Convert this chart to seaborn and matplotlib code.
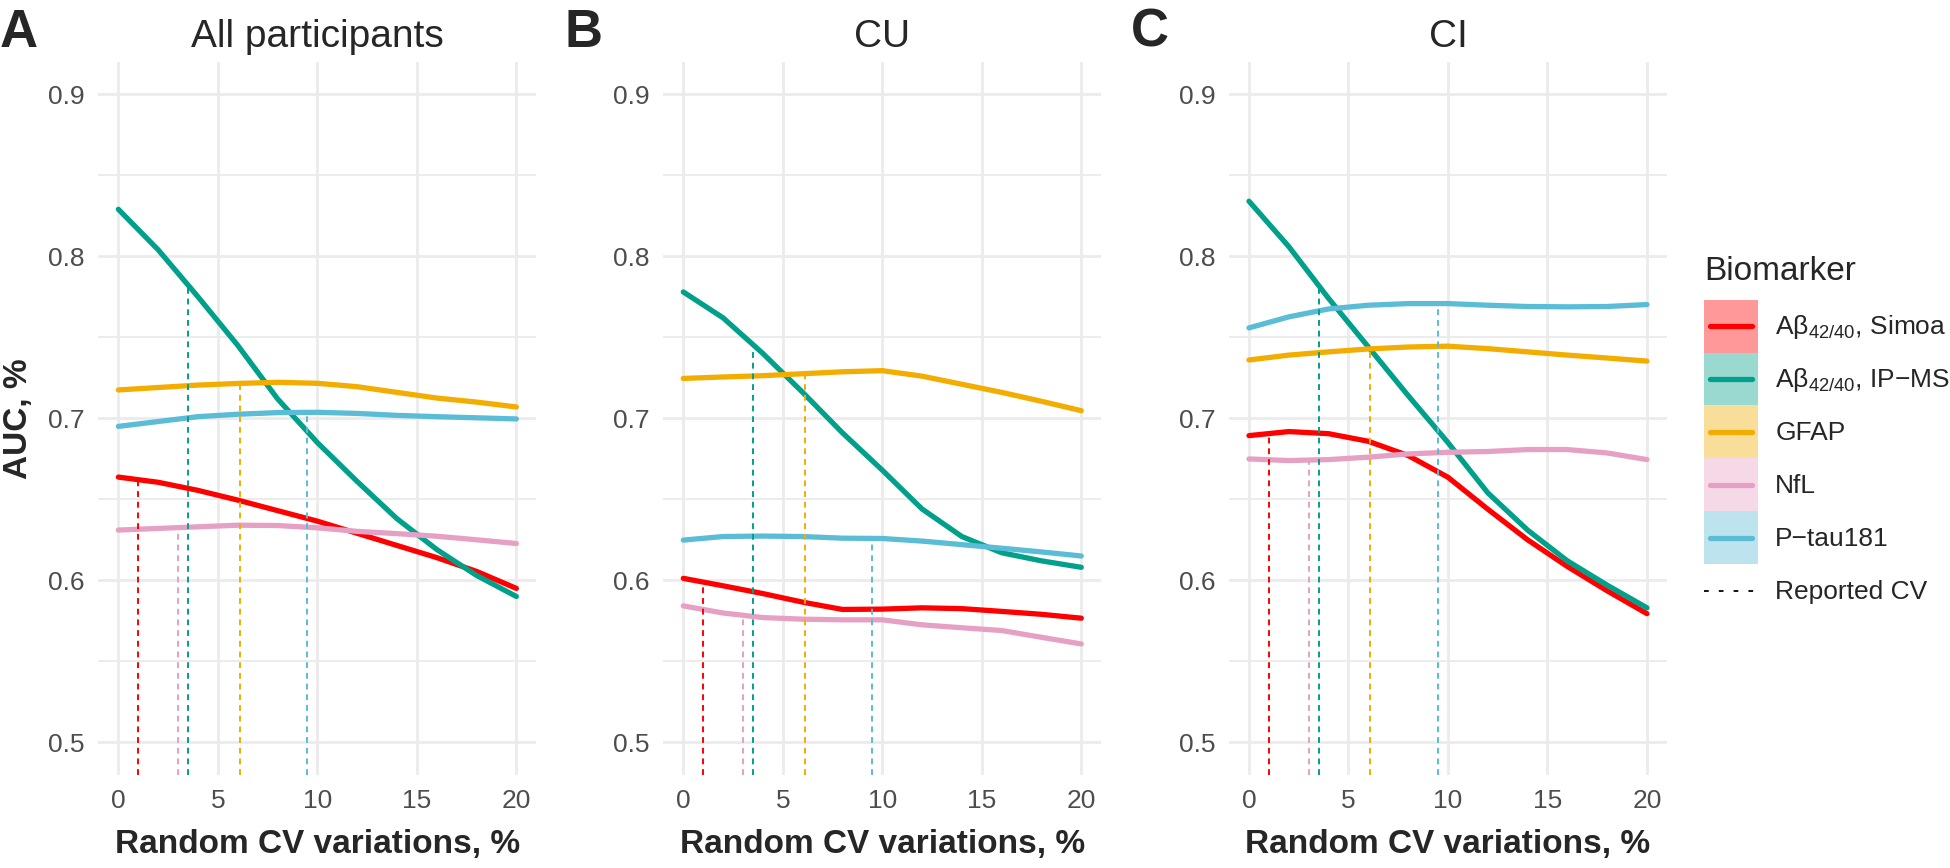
import numpy as np
import pandas as pd
import seaborn as sns
import matplotlib.pyplot as plt
from matplotlib.lines import Line2D
from matplotlib.patches import Rectangle
from matplotlib.ticker import MultipleLocator

# random CV variation (%) at which AUC was read
cv = [0, 2, 4, 6, 8, 10, 12, 14, 16, 18, 20]

# All participants
all_simoa = [0.6637, 0.6605, 0.6555, 0.6495, 0.6430, 0.6365, 0.6290, 0.6215, 0.6140, 0.6055, 0.5950]
all_ipms = [0.829, 0.804, 0.775, 0.745, 0.712, 0.685, 0.661, 0.638, 0.619, 0.603, 0.590]
all_gfap = [0.7175, 0.7190, 0.7205, 0.7215, 0.7222, 0.7216, 0.7195, 0.7160, 0.7125, 0.7100, 0.7070]
all_nfl = [0.6310, 0.6320, 0.6330, 0.6340, 0.6338, 0.6324, 0.6302, 0.6288, 0.6272, 0.6250, 0.6227]
all_ptau = [0.6950, 0.6980, 0.7010, 0.7025, 0.7035, 0.7037, 0.7030, 0.7018, 0.7010, 0.7003, 0.6996]

# CU
cu_simoa = [0.6012, 0.5966, 0.5918, 0.5865, 0.5820, 0.5822, 0.5830, 0.5825, 0.5808, 0.5790, 0.5766]
cu_ipms = [0.778, 0.762, 0.740, 0.716, 0.691, 0.668, 0.644, 0.627, 0.617, 0.612, 0.608]
cu_gfap = [0.7246, 0.7255, 0.7263, 0.7275, 0.7287, 0.7294, 0.7260, 0.7210, 0.7160, 0.7105, 0.7047]
cu_nfl = [0.5842, 0.5798, 0.5770, 0.5760, 0.5756, 0.5756, 0.5725, 0.5707, 0.5690, 0.5648, 0.5607]
cu_ptau = [0.6248, 0.6270, 0.6273, 0.6270, 0.6260, 0.6258, 0.6242, 0.6220, 0.6198, 0.6175, 0.6150]

# CI
ci_simoa = [0.6893, 0.6918, 0.6905, 0.6858, 0.6770, 0.6636, 0.6439, 0.6250, 0.6085, 0.5935, 0.5794]
ci_ipms = [0.834, 0.806, 0.774, 0.744, 0.714, 0.685, 0.654, 0.631, 0.612, 0.597, 0.583]
ci_gfap = [0.7360, 0.7390, 0.7410, 0.7428, 0.7440, 0.7445, 0.7430, 0.7410, 0.7390, 0.7372, 0.7353]
ci_nfl = [0.6749, 0.6739, 0.6745, 0.6760, 0.6780, 0.6790, 0.6795, 0.6807, 0.6807, 0.6786, 0.6745]
ci_ptau = [0.7558, 0.7626, 0.7675, 0.7698, 0.7708, 0.7708, 0.7698, 0.7690, 0.7688, 0.7690, 0.7702]

markers = ["Simoa", "IP-MS", "GFAP", "NfL", "P-tau181"]
marker_labels = ["A\u03b2$_{42/40}$, Simoa", "A\u03b2$_{42/40}$, IP\u2212MS", "GFAP", "NfL", "P\u2212tau181"]
reported_cv = [1.0, 3.5, 6.1, 3.0, 9.5]
colors = ["#FF0000", "#00A08A", "#F2AD00", "#E6A0C4", "#5BBCD6"]

panels = ["All participants", "CU", "CI"]
letters = ["A", "B", "C"]
panel_data = [
    [all_simoa, all_ipms, all_gfap, all_nfl, all_ptau],
    [cu_simoa, cu_ipms, cu_gfap, cu_nfl, cu_ptau],
    [ci_simoa, ci_ipms, ci_gfap, ci_nfl, ci_ptau],
]

rows = []
for p, vals in zip(panels, panel_data):
    for m, v in zip(markers, vals):
        for x, y in zip(cv, v):
            rows.append({"panel": p, "marker": m, "cv": x, "auc": y})
df = pd.DataFrame(rows)
palette = dict(zip(markers, colors))

sns.set_style("white")
plt.rcParams['font.family'] = ['Liberation Sans', 'DejaVu Sans']
plt.rcParams['mathtext.default'] = 'regular'

key_dash = (0, (2.6, 5.6))


class KeyBox:
    # ggplot-like legend key: tinted box with the line across it
    def legend_artist(self, legend, orig_handle, fontsize, handlebox):
        x0, y0 = -handlebox.xdescent, -handlebox.ydescent
        w, h = handlebox.width, handlebox.height
        c = orig_handle.get_color()
        if orig_handle.get_linestyle() == '-':
            handlebox.add_artist(Rectangle((x0, y0), w, h, facecolor=c, alpha=0.4, edgecolor='none'))
            ln = Line2D([x0 + 0.11 * w, x0 + 0.89 * w], [y0 + h / 2] * 2, color=c,
                        lw=orig_handle.get_linewidth())
        else:
            ln = Line2D([x0, x0 + w], [y0 + h / 2] * 2, color=c,
                        lw=orig_handle.get_linewidth(), ls=key_dash)
        handlebox.add_artist(ln)
        return ln


fig = plt.figure(figsize=(19.5, 8.68), dpi=100)
lefts = [0.0505, 0.3402, 0.6303]
bottom, width, height = 0.1075, 0.2245, 0.8212

for i, p in enumerate(panels):
    ax = fig.add_axes([lefts[i], bottom, width, height])
    ax.set_axisbelow(True)
    sub = df[df.panel == p]
    sns.lineplot(data=sub, x="cv", y="auc", hue="marker", hue_order=markers, palette=palette,
                 linewidth=3.8, legend=False, ax=ax)
    ax.set_xlim(-1, 21)
    ax.set_ylim(0.48, 0.92)
    ymin = ax.get_ylim()[0]
    for m, v, c, rc in zip(markers, panel_data[i], colors, reported_cv):
        ax.vlines(rc, ymin, np.interp(rc, cv, v), colors=c, linestyles=(0, (3, 2.5)),
                  lw=1.4, zorder=4)

    ax.xaxis.set_major_locator(MultipleLocator(5))
    ax.yaxis.set_minor_locator(MultipleLocator(0.05))
    ax.set_yticks([0.5, 0.6, 0.7, 0.8, 0.9])
    ax.grid(which='major', color='#EBEBEB', lw=2.0)
    ax.grid(which='minor', axis='y', color='#EBEBEB', lw=1.3)
    ax.tick_params(which='both', length=0, labelsize=19, labelcolor='#4D4D4D', pad=10)
    for s in ax.spines.values():
        s.set_visible(False)

    ax.set_title(p, fontsize=28, pad=11)
    ax.set_xlabel("Random CV variations, %", fontsize=24, fontweight='bold', labelpad=12)
    if i == 0:
        ax.set_ylabel("AUC, %", fontsize=24, fontweight='bold', labelpad=10)
    else:
        ax.set_ylabel("")
    fig.text(lefts[i] - 0.0505, 0.991, letters[i], fontsize=38, fontweight='bold', va='top', ha='left')

handles = [Line2D([], [], color=c, lw=3.8, ls='-') for c in colors]
handles.append(Line2D([], [], color='black', lw=1.3, ls='--'))
labels = marker_labels + ["Reported CV"]
leg = fig.legend(handles, labels, handler_map={Line2D: KeyBox()}, loc='upper left',
                 bbox_to_anchor=(0.8738, 0.705), frameon=False, fontsize=19,
                 title="Biomarker", title_fontsize=24, alignment='left',
                 handlelength=2.05, handleheight=2.71, handletextpad=0.65,
                 labelspacing=0, borderpad=0, borderaxespad=0)
leg._legend_box.sep = 9  # gap between title and keys

plt.savefig("out.png", dpi=100)
